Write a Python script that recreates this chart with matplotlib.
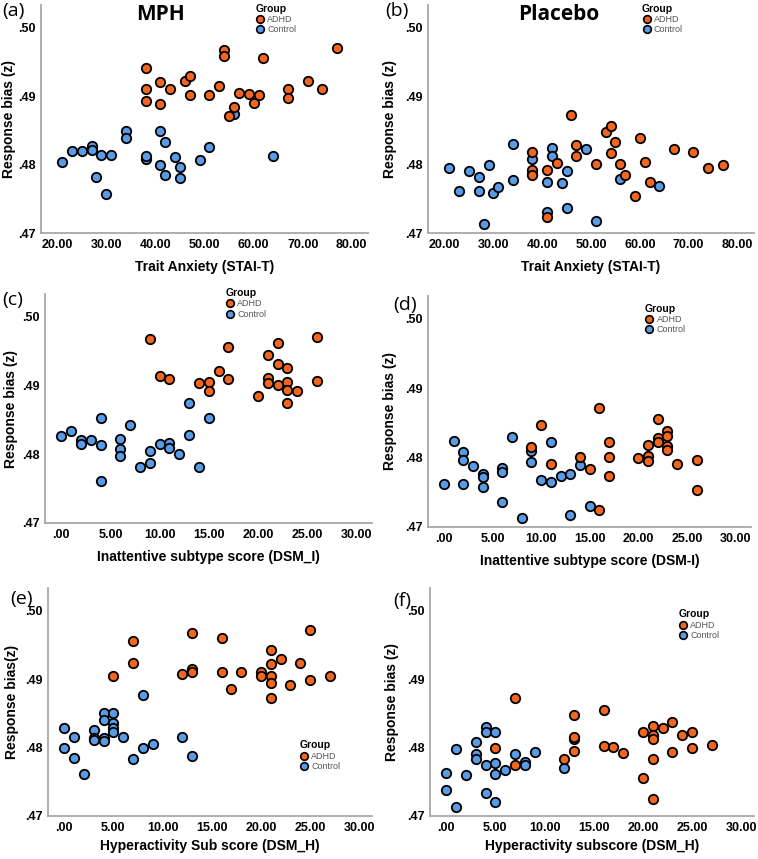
import matplotlib
matplotlib.use("Agg")
import matplotlib.pyplot as plt
from matplotlib.lines import Line2D

plt.rcParams['font.family'] = ['Liberation Sans', 'DejaVu Sans']

ORANGE = '#F4661E'
BLUE = '#5A9BE6'

# ---------------- data ----------------
# (a) MPH vs Trait Anxiety
a_adhd_x = [38, 38, 38, 41, 41, 43, 46, 47, 47, 51, 53, 54, 54, 55, 56, 57, 59, 60, 61, 62, 67, 67, 71, 74, 77]
a_adhd_y = [.4941, .4910, .4893, .4921, .4889, .4910, .4922, .4929, .4902, .4902, .4914, .4968, .4959, .4871,
            .4884, .4905, .4903, .4890, .4902, .4955, .4910, .4897, .4922, .4911, .4970]
a_ctrl_x = [21, 23, 25, 27, 27, 29, 31, 28, 30, 34, 34, 38, 38, 41, 42, 41, 42, 44, 45, 45, 49, 51, 56, 64]
a_ctrl_y = [.4803, .4820, .4820, .4827, .4821, .4814, .4814, .4782, .4757, .4849, .4839, .4808, .4812, .4849,
            .4833, .4799, .4784, .4811, .4797, .4780, .4806, .4825, .4874, .4813]

# (b) Placebo vs Trait Anxiety
b_adhd_x = [46, 47, 47, 38, 38, 38, 41, 41, 43, 51, 53, 54, 54, 55, 56, 57, 59, 60, 61, 62, 67, 71, 74, 77]
b_adhd_y = [.4873, .4829, .4812, .4819, .4792, .4784, .4792, .4724, .4802, .4801, .4848, .4857, .4817, .4833,
            .4801, .4784, .4754, .4839, .4803, .4774, .4823, .4819, .4795, .4800]
b_ctrl_x = [21, 23, 25, 27, 27, 29, 30, 31, 28, 34, 34, 38, 38, 42, 42, 41, 41, 44, 45, 45, 49, 51, 56, 64]
b_ctrl_y = [.4795, .4762, .4790, .4782, .4762, .4799, .4759, .4767, .4713, .4830, .4778, .4808, .4786, .4824,
            .4812, .4775, .4731, .4773, .4791, .4736, .4823, .4718, .4779, .4769]

# (c) MPH vs Inattentive subtype score
c_adhd_x = [9, 10, 11, 14, 15, 15, 16, 17, 17, 20, 21, 21, 21, 22, 22, 22, 23, 23, 23, 23, 24, 26, 26]
c_adhd_y = [.4968, .4914, .4910, .4903, .4905, .4892, .4921, .4956, .4910, .4885, .4944, .4911, .4903, .4962,
            .4931, .4900, .4925, .4905, .4893, .4875, .4892, .4971, .4906]
c_ctrl_x = [0, 1, 2, 2, 3, 4, 4, 4, 6, 6, 6, 7, 8, 9, 9, 10, 11, 11, 12, 13, 13, 14, 15]
c_ctrl_y = [.4827, .4834, .4821, .4815, .4820, .4852, .4814, .4761, .4822, .4808, .4797, .4842, .4781, .4804,
            .4787, .4815, .4817, .4809, .4801, .4875, .4828, .4782, .4853]

# (d) Placebo vs Inattentive subtype score
d_adhd_x = [10, 9, 11, 14, 15, 16, 16, 17, 17, 17, 20, 21, 21, 21, 22, 22, 22, 23, 23, 23, 23, 24, 26, 26]
d_adhd_y = [.4847, .4816, .4791, .4801, .4783, .4872, .4725, .4823, .4801, .4774, .4800, .4818, .4803, .4795,
            .4856, .4829, .4822, .4838, .4831, .4817, .4811, .4791, .4797, .4754]
d_ctrl_x = [0, 1, 2, 2, 2, 3, 4, 4, 4, 6, 6, 6, 7, 8, 9, 9, 10, 11, 11, 12, 13, 13, 14, 15]
d_ctrl_y = [.4762, .4824, .4808, .4796, .4762, .4788, .4777, .4772, .4758, .4785, .4780, .4736, .4830, .4713,
            .4809, .4793, .4768, .4823, .4765, .4773, .4777, .4717, .4789, .4730]

# (e) MPH vs Hyperactivity sub score
e_adhd_x = [5, 7, 7, 12, 13, 13, 13, 16, 16, 17, 18, 20, 20, 21, 21, 21, 21, 21, 22, 23, 24, 25, 25, 27]
e_adhd_y = [.4904, .4956, .4923, .4907, .4968, .4915, .4911, .4960, .4911, .4886, .4911, .4911, .4905, .4942,
            .4922, .4904, .4894, .4873, .4930, .4891, .4923, .4972, .4898, .4904]
e_ctrl_x = [0, 0, 1, 1, 2, 3, 3, 3, 4, 4, 4, 4, 5, 5, 5, 5, 6, 7, 8, 8, 9, 12, 13]
e_ctrl_y = [.4829, .4800, .4816, .4784, .4761, .4825, .4814, .4811, .4851, .4840, .4814, .4809, .4851, .4836,
            .4828, .4823, .4816, .4783, .4876, .4800, .4805, .4815, .4787]

# (f) Placebo vs Hyperactivity subscore
f_adhd_x = [5, 7, 7, 12, 13, 13, 13, 16, 16, 17, 18, 20, 20, 21, 21, 21, 21, 21, 22, 23, 23, 24, 25, 25, 27]
f_adhd_y = [.4800, .4872, .4774, .4783, .4847, .4816, .4795, .4855, .4802, .4801, .4792, .4822, .4755, .4832,
            .4819, .4812, .4783, .4725, .4829, .4838, .4793, .4819, .4822, .4799, .4803]
f_ctrl_x = [0, 0, 1, 1, 2, 3, 3, 3, 4, 4, 4, 4, 5, 5, 5, 5, 6, 7, 8, 8, 9, 12, 13]
f_ctrl_y = [.4763, .4738, .4798, .4713, .4760, .4808, .4791, .4783, .4830, .4823, .4774, .4733, .4823, .4778,
            .4762, .4720, .4767, .4790, .4779, .4775, .4794, .4770, .4812]

y_ticks = [.47, .48, .49, .50]
y_ticklabels = ['.47', '.48', '.49', '.50']
anx_ticks = [20, 30, 40, 50, 60, 70, 80]
anx_ticklabels = ['20.00', '30.00', '40.00', '50.00', '60.00', '70.00', '80.00']
dsm_ticks = [0, 5, 10, 15, 20, 25, 30]
dsm_ticklabels = ['.00', '5.00', '10.00', '15.00', '20.00', '25.00', '30.00']
groups = ['ADHD', 'Control']

W, H = 758, 859
fig = plt.figure(figsize=(W / 100, H / 100), dpi=100)


def make_ax(left, right, top, bottom):
    return fig.add_axes([left / W, 1 - bottom / H, (right - left) / W, (bottom - top) / H])


panels = [
    dict(box=(41, 368, 5, 233), ax_=a_adhd_x, ay_=a_adhd_y, cx=a_ctrl_x, cy=a_ctrl_y,
         xt=anx_ticks, xtl=anx_ticklabels, xlim=(16.7, 83.3), xlabel='Trait Anxiety (STAI-T)',
         ylabel='Response bias (z)', tag='(a)', title='MPH', leg=(0.64, 1.03), ylp=1.5, xlp=7),
    dict(box=(428, 754, 5, 233), ax_=b_adhd_x, ay_=b_adhd_y, cx=b_ctrl_x, cy=b_ctrl_y,
         xt=anx_ticks, xtl=anx_ticklabels, xlim=(16.6, 83.4), xlabel='Trait Anxiety (STAI-T)',
         ylabel='Response bias (z)', tag='(b)', title='Placebo', leg=(0.64, 1.03), ylp=6, xlp=7),
    dict(box=(45, 372, 294, 523), ax_=c_adhd_x, ay_=c_adhd_y, cx=c_ctrl_x, cy=c_ctrl_y,
         xt=dsm_ticks, xtl=dsm_ticklabels, xlim=(-1.65, 31.6), xlabel='Inattentive subtype score (DSM_I)',
         ylabel='Response bias (z)', tag='(c)', title=None, leg=(0.535, 1.05), ylp=3, xlp=7),
    dict(box=(428, 751, 296, 527), ax_=d_adhd_x, ay_=d_adhd_y, cx=d_ctrl_x, cy=d_ctrl_y,
         xt=dsm_ticks, xtl=dsm_ticklabels, xlim=(-1.65, 31.6), xlabel='Inattentive subtype score (DSM-I)',
         ylabel='Response bias (z)', tag='(d)', title=None, leg=(0.655, 0.99), ylp=6, xlp=7),
    dict(box=(48, 372, 588, 816), ax_=e_adhd_x, ay_=e_adhd_y, cx=e_ctrl_x, cy=e_ctrl_y,
         xt=dsm_ticks, xtl=dsm_ticklabels, xlim=(-1.65, 31.3), xlabel='Hyperactivity Sub score (DSM_H)',
         ylabel='Response bias(z)', tag='(e)', title=None, leg=(0.76, 0.355), ylp=4, xlp=4),
    dict(box=(430, 754, 588, 816), ax_=f_adhd_x, ay_=f_adhd_y, cx=f_ctrl_x, cy=f_ctrl_y,
         xt=dsm_ticks, xtl=dsm_ticklabels, xlim=(-1.65, 31.3), xlabel='Hyperactivity subscore (DSM_H)',
         ylabel='Response bias (z)', tag='(f)', title=None, leg=(0.75, 0.93), ylp=6, xlp=4),
]

tag_pos = {'(a)': (2, 2), '(b)': (385, 2), '(c)': (2, 291), '(d)': (393, 296), '(e)': (10, 590), '(f)': (393, 592)}
title_pos = {'MPH': (161, 14), 'Placebo': (559, 14)}

for p in panels:
    ax = make_ax(*p['box'])
    ax.scatter(p['cx'], p['cy'], s=46, c=BLUE, edgecolors='black', linewidths=1.3, zorder=3)
    ax.scatter(p['ax_'], p['ay_'], s=46, c=ORANGE, edgecolors='black', linewidths=1.3, zorder=3)
    ax.set_ylim(0.47, 0.5033)
    ax.set_xlim(*p['xlim'])
    ax.set_yticks(y_ticks)
    ax.set_yticklabels(y_ticklabels, fontsize=9, fontweight='bold')
    ax.set_xticks(p['xt'])
    ax.set_xticklabels(p['xtl'], fontsize=9, fontweight='bold')
    ax.tick_params(length=0, pad=4)
    for s in ['top', 'right']:
        ax.spines[s].set_visible(False)
    for s in ['left', 'bottom']:
        ax.spines[s].set_color('#a8a8a8')
        ax.spines[s].set_linewidth(1.3)
    ax.set_xlabel(p['xlabel'], fontsize=10, fontweight='bold', labelpad=p['xlp'])
    ax.set_ylabel(p['ylabel'], fontsize=10, fontweight='bold', labelpad=p['ylp'])

    handles = [Line2D([], [], marker='o', linestyle='', markerfacecolor=col, markeredgecolor='black',
                      markeredgewidth=1.2, markersize=5.5) for col in (ORANGE, BLUE)]
    leg = ax.legend(handles, groups, title='Group', loc='upper left', bbox_to_anchor=p['leg'],
                    frameon=False, fontsize=6.5, title_fontproperties={'weight': 'bold', 'size': 7.5},
                    handletextpad=0.3, borderpad=0.1, labelspacing=0.15, handlelength=1.0,
                    alignment='left')
    for t in leg.get_texts():
        t.set_color('#555555')

    tx, ty = tag_pos[p['tag']]
    fig.text(tx / W, 1 - ty / H, p['tag'], fontsize=14, family=['Open Sans', 'DejaVu Sans'],
             va='top', ha='left')
    if p['title']:
        x0, y0 = title_pos[p['title']]
        fig.text(x0 / W, 1 - y0 / H, p['title'], fontsize=15, fontweight='bold',
                 family=['Open Sans', 'DejaVu Sans'], va='center', ha='center')

fig.savefig('out.png', dpi=100)
